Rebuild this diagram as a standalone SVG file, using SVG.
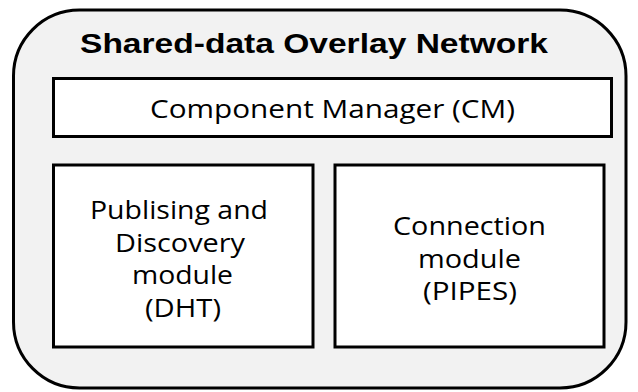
<svg xmlns="http://www.w3.org/2000/svg" width="638" height="392" viewBox="0 0 638 392">
<style>
.box{fill:#ffffff;stroke:#000000;stroke-width:3}
.t{font-family:"Open Sans","Liberation Sans",sans-serif;font-size:25px;fill:#000000;text-anchor:middle}
.title{font-family:"Liberation Sans",Arial,sans-serif;font-weight:bold;font-size:28px;fill:#000000;text-anchor:middle}
</style>
<rect width="638" height="392" fill="#ffffff"/>
<g id="overlay">
<rect x="13.5" y="10" width="612.5" height="378" rx="66" ry="66" fill="#f2f2f2" stroke="#000000" stroke-width="3"/>
<text class="title" x="314" y="53" textLength="468" lengthAdjust="spacingAndGlyphs">Shared-data Overlay Network</text>
</g>
<g id="cm">
<rect class="box" x="53.5" y="78.5" width="558" height="58"/>
<text class="t" x="332.5" y="118" textLength="365" lengthAdjust="spacingAndGlyphs">Component Manager (CM)</text>
</g>
<g id="dht">
<rect class="box" x="53.5" y="165" width="259.5" height="182"/>
<text class="t" x="179" y="219" textLength="178" lengthAdjust="spacingAndGlyphs">Publising and</text>
<text class="t" x="180" y="252" textLength="130" lengthAdjust="spacingAndGlyphs">Discovery</text>
<text class="t" x="182.5" y="284" textLength="101" lengthAdjust="spacingAndGlyphs">module</text>
<text class="t" x="183" y="317" textLength="76" lengthAdjust="spacingAndGlyphs">(DHT)</text>
</g>
<g id="pipes">
<rect class="box" x="335" y="165" width="269" height="182"/>
<text class="t" x="469.5" y="235" textLength="153" lengthAdjust="spacingAndGlyphs">Connection</text>
<text class="t" x="469.5" y="268" textLength="103" lengthAdjust="spacingAndGlyphs">module</text>
<text class="t" x="470" y="300" textLength="94" lengthAdjust="spacingAndGlyphs">(PIPES)</text>
</g>
<g id="connectors"/>
</svg>
